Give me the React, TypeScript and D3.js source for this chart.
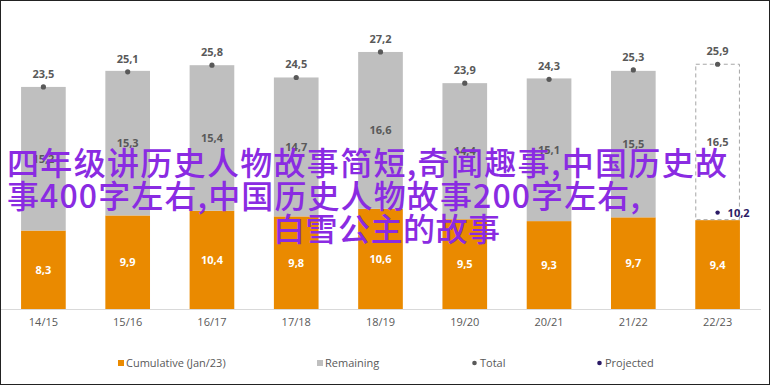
import React, { useRef, useEffect } from 'react';
import * as d3 from 'd3';

const categories = ['14/15', '15/16', '16/17', '17/18', '18/19', '19/20', '20/21', '21/22', '22/23'];
const cumulative = [8.3, 9.9, 10.4, 9.8, 10.6, 9.5, 9.3, 9.7, 9.4];
const remaining = [15.2, 15.3, 15.4, 14.7, 16.6, 14.4, 15.1, 15.5, 16.5];
const totals = [23.5, 25.1, 25.8, 24.5, 27.2, 23.9, 24.3, 25.3, 25.9];
const projected: (number | null)[] = [null, null, null, null, null, null, null, null, 10.2];
const overlayLines = [
  '四年级讲历史人物故事简短,奇闻趣事,中国历史故',
  '事400字左右,中国历史人物故事200字左右,',
  '白雪公主的故事',
];

const fmt = (v: number) => v.toFixed(1).replace('.', ',');

const App = () => {
  const ref = useRef<SVGSVGElement>(null);

  useEffect(() => {
    const width = 770;
    const height = 385;
    const baseY = 309;
    const orange = '#ea8a00';
    const grey = '#bfbfbf';
    const text = '#595959';
    const navy = '#2b1a66';
    const font = "'Open Sans', sans-serif";

    const svg = d3.select(ref.current);
    svg.selectAll('*').remove();
    svg.attr('width', width).attr('height', height);

    svg.append('rect').attr('width', width).attr('height', height).attr('fill', '#fff');

    const x = d3.scaleBand().domain(categories).range([0, 761]).paddingInner(0.47).paddingOuter(0.25);
    const y = d3.scaleLinear().domain([0, 30]).range([baseY, baseY - 30 * 9.45]);

    const rows = categories.map((c, i) => ({ c, cum: cumulative[i], rem: remaining[i], tot: totals[i], proj: projected[i], last: i === categories.length - 1 }));

    const g = svg.append('g');

    // cumulative bars
    g.selectAll('rect.cum')
      .data(rows)
      .join('rect')
      .attr('class', 'cum')
      .attr('x', d => x(d.c)!)
      .attr('width', x.bandwidth())
      .attr('y', d => y(d.cum))
      .attr('height', d => y(0) - y(d.cum))
      .attr('fill', orange);

    // remaining bars (last one is a dashed outline)
    g.selectAll('rect.rem')
      .data(rows)
      .join('rect')
      .attr('class', 'rem')
      .attr('x', d => d.last ? x(d.c)! + 0.5 : x(d.c)!)
      .attr('width', d => d.last ? x.bandwidth() - 1 : x.bandwidth())
      .attr('y', d => y(d.cum + d.rem))
      .attr('height', d => y(d.cum) - y(d.cum + d.rem) - (d.last ? 0.5 : 0))
      .attr('fill', d => d.last ? 'none' : grey)
      .attr('stroke', d => d.last ? '#a6a6a6' : 'none')
      .attr('stroke-dasharray', '4,3');

    // axis line
    g.append('line')
      .attr('x1', 0).attr('x2', 761)
      .attr('y1', baseY + 0.5).attr('y2', baseY + 0.5)
      .attr('stroke', '#d9d9d9');

    // x tick labels
    g.selectAll('text.tick')
      .data(rows)
      .join('text')
      .attr('class', 'tick')
      .attr('x', d => x(d.c)! + x.bandwidth() / 2)
      .attr('y', 326)
      .attr('text-anchor', 'middle')
      .attr('font-family', font)
      .attr('font-size', 11)
      .attr('fill', text)
      .text(d => d.c);

    // value labels
    g.selectAll('text.cumLabel')
      .data(rows)
      .join('text')
      .attr('class', 'cumLabel')
      .attr('x', d => x(d.c)! + x.bandwidth() / 2)
      .attr('y', d => (y(0) + y(d.cum)) / 2 + 4)
      .attr('text-anchor', 'middle')
      .attr('font-family', font)
      .attr('font-weight', 700)
      .attr('font-size', 11)
      .attr('fill', '#fff')
      .text(d => fmt(d.cum));

    g.selectAll('text.remLabel')
      .data(rows)
      .join('text')
      .attr('class', 'remLabel')
      .attr('x', d => x(d.c)! + x.bandwidth() / 2)
      .attr('y', d => (y(d.cum) + y(d.cum + d.rem)) / 2 + 4)
      .attr('text-anchor', 'middle')
      .attr('font-family', font)
      .attr('font-weight', 700)
      .attr('font-size', 11)
      .attr('fill', text)
      .text(d => fmt(d.rem));

    // totals
    g.selectAll('circle.tot')
      .data(rows)
      .join('circle')
      .attr('class', 'tot')
      .attr('cx', d => x(d.c)! + x.bandwidth() / 2)
      .attr('cy', d => y(d.tot))
      .attr('r', 2.6)
      .attr('fill', text);

    g.selectAll('text.totLabel')
      .data(rows)
      .join('text')
      .attr('class', 'totLabel')
      .attr('x', d => x(d.c)! + x.bandwidth() / 2)
      .attr('y', d => y(d.tot) - 9)
      .attr('text-anchor', 'middle')
      .attr('font-family', font)
      .attr('font-weight', 700)
      .attr('font-size', 11)
      .attr('fill', text)
      .text(d => fmt(d.tot));

    // projected
    const proj = rows.filter(d => d.proj != null);
    g.selectAll('circle.proj')
      .data(proj)
      .join('circle')
      .attr('class', 'proj')
      .attr('cx', d => x(d.c)! + x.bandwidth() / 2)
      .attr('cy', d => y(d.proj as number))
      .attr('r', 2.2)
      .attr('fill', navy);

    g.selectAll('text.projLabel')
      .data(proj)
      .join('text')
      .attr('class', 'projLabel')
      .attr('x', d => x(d.c)! + x.bandwidth() / 2 + 10)
      .attr('y', d => y(d.proj as number) + 4)
      .attr('font-family', font)
      .attr('font-weight', 700)
      .attr('font-size', 11)
      .attr('fill', navy)
      .text(d => fmt(d.proj as number));

    // legend
    const legend = [
      { label: 'Cumulative (Jan/23)', x: 118, type: 'rect', color: orange },
      { label: 'Remaining', x: 317, type: 'rect', color: grey },
      { label: 'Total', x: 472, type: 'dot', color: text },
      { label: 'Projected', x: 597, type: 'dot', color: navy },
    ];
    const lg = svg.append('g').attr('transform', 'translate(0,363)');
    legend.forEach(l => {
      if (l.type === 'rect') {
        lg.append('rect').attr('x', l.x).attr('y', -3).attr('width', 6).attr('height', 6).attr('fill', l.color);
      } else {
        lg.append('circle').attr('cx', l.x + 2.5).attr('cy', 0).attr('r', 2.3).attr('fill', l.color);
      }
      lg.append('text')
        .attr('x', l.x + 8)
        .attr('y', 4)
        .attr('font-family', font)
        .attr('font-size', 11)
        .attr('fill', text)
        .text(l.label);
    });

    // border
    svg.append('rect')
      .attr('x', 0.5).attr('y', 0.5)
      .attr('width', width - 1).attr('height', height - 1)
      .attr('fill', 'none')
      .attr('stroke', '#222');

    // overlay text
    const lineX = [7, 7, 273];
    const lineY = [175, 208, 241];
    const lineW = [720, 633, 227];
    svg.append('g')
      .selectAll('text')
      .data(overlayLines)
      .join('text')
      .attr('x', (_, i) => lineX[i])
      .attr('y', (_, i) => lineY[i])
      .attr('textLength', (_, i) => lineW[i])
      .attr('lengthAdjust', 'spacing')
      .attr('font-family', "'Noto Sans CJK SC', sans-serif")
      .attr('font-weight', 500)
      .attr('font-size', 32)
      .attr('fill', '#8a2be2')
      .text(d => d);
  }, []);

  return <svg ref={ref} style={{ position: 'absolute', left: 0, top: 0, display: 'block' }} />;
};

export default App;
